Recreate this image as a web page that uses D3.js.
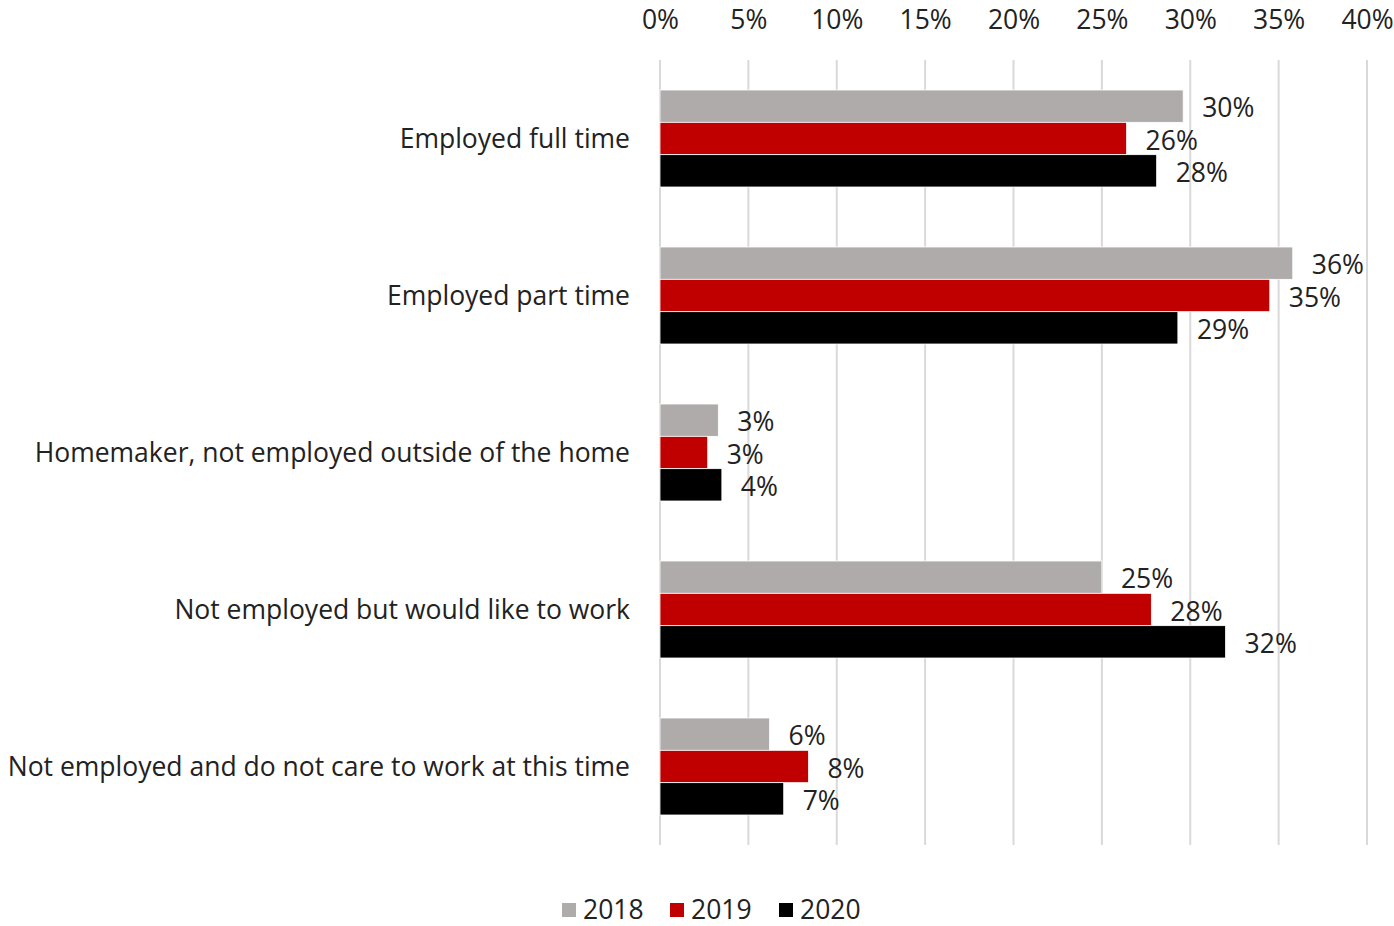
<!DOCTYPE html>
<html><head><meta charset="utf-8">
<script src="https://cdn.jsdelivr.net/npm/d3@7"></script>
<style>body{margin:0;background:#fff}svg{display:block}</style>
</head><body><svg id="c" width="1394" height="926"></svg>
<script>
const categories = ["Employed full time","Employed part time","Homemaker, not employed outside of the home","Not employed but would like to work","Not employed and do not care to work at this time"];
const seriesNames = ["2018","2019","2020"];
const values2018 = [29.6, 35.8, 3.3, 25.0, 6.2];
const values2019 = [26.4, 34.5, 2.7, 27.8, 8.4];
const values2020 = [28.1, 29.3, 3.5, 32.0, 7.0];
const labels2018 = ["30%","36%","3%","25%","6%"];
const labels2019 = ["26%","35%","3%","28%","8%"];
const labels2020 = ["28%","29%","4%","32%","7%"];
const tickValues = [0,5,10,15,20,25,30,35,40];
const colors = ["#AFABAB","#C00000","#000000"];

const series = [values2018, values2019, values2020];
const seriesLabels = [labels2018, labels2019, labels2020];
const font = "'Open Sans',sans-serif";
const numSize = 26.5, catSize = 26.5;

const svg = d3.select("#c");
const x = d3.scaleLinear().domain([0,40]).range([660,1367]);
const y = d3.scaleBand().domain(categories).range([60,845]).paddingInner(0).paddingOuter(0);
const groupH = 97;
const inner = d3.scaleBand().domain(seriesNames).range([0,groupH]);

// grid
svg.append("g").selectAll("line").data(tickValues).join("line")
  .attr("x1",d=>x(d)).attr("x2",d=>x(d)).attr("y1",60).attr("y2",845)
  .attr("stroke","#D9D9D9").attr("stroke-width",2);

// top axis
const axis = d3.axisTop(x).tickValues(tickValues).tickFormat(d=>d+"%").tickSize(0);
const ag = svg.append("g").attr("transform","translate(0,20)").call(axis);
ag.select(".domain").remove();
ag.selectAll("text").attr("font-family",font).attr("font-size",numSize).attr("fill","#222").attr("dy","0.35em").attr("y",0);

// bars
categories.forEach((c,i)=>{
  const top = y(c) + (y.bandwidth()-groupH)/2;
  series.forEach((s,j)=>{
    const by = top + inner(seriesNames[j]);
    svg.append("rect").attr("x",x(0)).attr("y",by).attr("width",x(s[i])-x(0)).attr("height",inner.bandwidth())
      .attr("fill",colors[j]).attr("stroke","#fff").attr("stroke-width",0.8);
    svg.append("text").attr("x",x(s[i])+19).attr("y",by+inner.bandwidth()/2+2).attr("dy","0.35em")
      .attr("font-family",font).attr("font-size",numSize).attr("fill","#222").text(seriesLabels[j][i]);
  });
  svg.append("text").attr("x",630).attr("y",y(c)+y.bandwidth()/2).attr("dy","0.35em").attr("text-anchor","end")
    .attr("font-family",font).attr("font-size",catSize).attr("fill","#222").text(c);
});

// legend
const legX = [562,670,779];
seriesNames.forEach((n,j)=>{
  svg.append("rect").attr("x",legX[j]).attr("y",903).attr("width",14).attr("height",14).attr("fill",colors[j]);
  svg.append("text").attr("x",legX[j]+21).attr("y",910).attr("dy","0.35em").attr("font-family",font).attr("font-size",numSize).attr("fill","#222").text(n);
});
</script></body></html>
